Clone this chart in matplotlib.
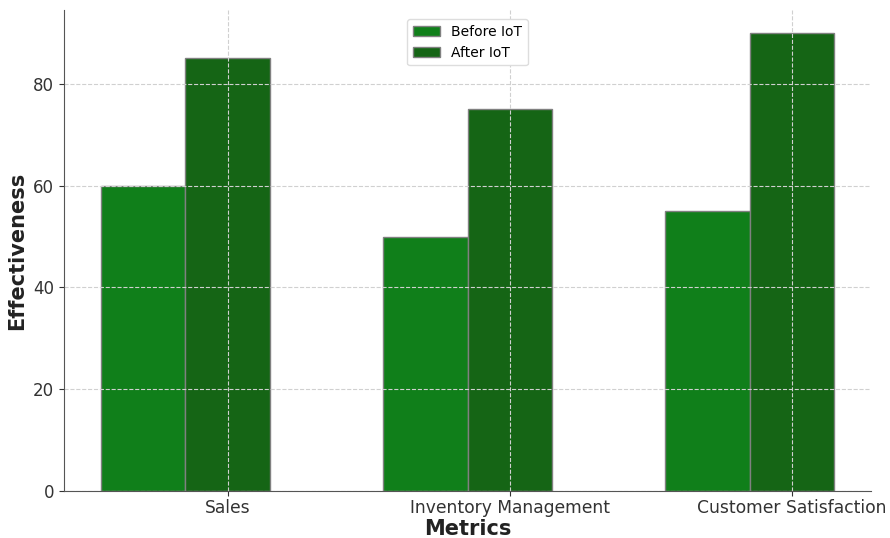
import matplotlib
matplotlib.use("Agg")
import matplotlib.pyplot as plt
import numpy as np

categories = ["Sales", "Inventory Management", "Customer Satisfaction"]
before_iot = [60, 50, 55]
after_iot = [85, 75, 90]
series_labels = ["Before IoT", "After IoT"]

plt.rcParams["font.family"] = ["DejaVu Sans"]

fig = plt.figure(figsize=(8.9, 5.38), dpi=100)
ax = fig.add_axes([64 / 890, 47 / 538, (871 - 64) / 890, (491 - 10) / 538])

x = np.arange(len(categories))
width = 0.3

ax.bar(x, before_iot, width, color="#107f1a", edgecolor="#808080",
       linewidth=1.0, label=series_labels[0])
ax.bar(x + width, after_iot, width, color="#156515", edgecolor="#808080",
       linewidth=1.0, label=series_labels[1])

ax.set_xticks(x + width)
ax.set_xticklabels(categories, fontsize=12.3, color="#333333")
ax.tick_params(axis="y", labelsize=12, labelcolor="#333333")
ax.tick_params(axis="x", pad=2)
ax.tick_params(colors="#333333")

ax.set_xlabel("Metrics", fontsize=15, fontweight="bold", color="#222222", labelpad=2)
ax.set_ylabel("Effectiveness", fontsize=15, fontweight="bold", color="#222222", labelpad=4)

ax.grid(True, linestyle="--", color="#d0d0d0", linewidth=0.8)
for side in ("top", "right"):
    ax.spines[side].set_visible(False)
for side in ("left", "bottom"):
    ax.spines[side].set_color("#555555")

ax.legend(loc="upper center", fontsize=10, frameon=True, framealpha=1.0,
          edgecolor="#dddddd", bbox_to_anchor=(0.5, 0.995))

fig.savefig("out.png", dpi=100)
